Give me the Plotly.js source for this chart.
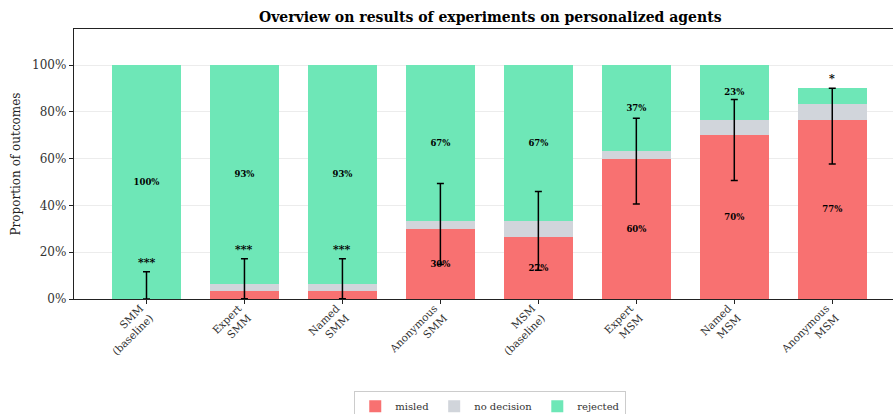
<!DOCTYPE html>
<html>
<head>
<meta charset="utf-8">
<script src="https://cdn.plot.ly/plotly-3.0.1.min.js"></script>
<style>html,body{margin:0;padding:0;background:#fff;}#chart{width:893px;height:414px;}</style>
</head>
<body>
<div id="chart"></div>
<script>
// Data
const categories = ["SMM<br>(baseline)", "Expert<br>SMM", "Named<br>SMM", "Anonymous<br>SMM",
                    "MSM<br>(baseline)", "Expert<br>MSM", "Named<br>MSM", "Anonymous<br>MSM"];
const misled     = [0.0, 0.033, 0.033, 0.30, 0.267, 0.60, 0.70, 0.767];
const noDecision = [0.0, 0.033, 0.033, 0.033, 0.067, 0.033, 0.067, 0.067];
const rejected   = [1.0, 0.933, 0.933, 0.667, 0.667, 0.367, 0.233, 0.067];
const ciLow      = [0.0, 0.001, 0.001, 0.147, 0.123, 0.406, 0.506, 0.577];
const ciHigh     = [0.116, 0.172, 0.172, 0.494, 0.459, 0.773, 0.853, 0.901];
const significance = ["***", "***", "***", "", "", "", "", "*"];
const yTickVals  = [0, 0.2, 0.4, 0.6, 0.8, 1.0];
const yTickText  = ["0%", "20%", "40%", "60%", "80%", "100%"];

const serif = "DejaVu Serif, serif";
const labelFor = v => v > 0.1 ? Math.round(v * 100) + "%" : "";

const barCommon = {
  type: "bar", x: categories, hoverinfo: "skip",
  textposition: "inside", insidetextanchor: "middle", textangle: 0,
  insidetextfont: {family: serif, size: 8.5, color: "#000", weight: "bold"},
  marker: {line: {width: 0}}
};

const traces = [
  Object.assign({}, barCommon, {name: "misled", y: misled, text: misled.map(labelFor),
    marker: {color: "#F87171", line: {width: 0}}}),
  Object.assign({}, barCommon, {name: "no decision", y: noDecision, text: noDecision.map(() => ""),
    marker: {color: "#D1D5DB", line: {width: 0}}}),
  Object.assign({}, barCommon, {name: "rejected", y: rejected, text: rejected.map(labelFor),
    marker: {color: "#6EE7B7", line: {width: 0}}}),
  {
    type: "scatter", mode: "markers", x: categories, y: misled, showlegend: false,
    hoverinfo: "skip", marker: {opacity: 0, size: 1},
    error_y: {type: "data", symmetric: false,
      array: ciHigh.map((h, i) => h - misled[i]),
      arrayminus: ciLow.map((l, i) => misled[i] - l),
      color: "#000", thickness: 1.5, width: 3.5}
  }
];

const annotations = significance.map((s, i) => ({
  x: categories[i], y: ciHigh[i], xref: "x", yref: "y", text: s, showarrow: false,
  yanchor: "bottom", yshift: 1,
  font: {family: serif, size: 11, color: "#000", weight: "bold"}
})).filter(a => a.text !== "");

const layout = {
  width: 893, height: 414,
  margin: {l: 74, r: 0, t: 29, b: 115},
  paper_bgcolor: "#fff", plot_bgcolor: "#fff",
  barmode: "stack", bargap: 0.3,
  title: {text: "<b>Overview on results of experiments on personalized agents</b>",
    font: {family: serif, size: 14, color: "#000"},
    xref: "container", x: 0.549, xanchor: "center", yref: "container", y: 0.958, yanchor: "middle"},
  xaxis: {
    type: "category", range: [-0.74, 7.62], showline: true, linecolor: "#222", linewidth: 1.2,
    mirror: true, ticks: "outside", ticklen: 4, tickcolor: "#222", tickangle: -45,
    ticklabelshift: -6, ticklabelstandoff: -6,
    tickfont: {family: serif, size: 10.5, color: "#333"}, showgrid: false, zeroline: false
  },
  yaxis: {
    range: [0, 1.154], tickvals: yTickVals, ticktext: yTickText,
    showline: true, linecolor: "#222", linewidth: 1.2, ticks: "outside", ticklen: 4, tickcolor: "#222",
    tickfont: {family: serif, size: 12, color: "#333"},
    showgrid: true, gridcolor: "#ececec", gridwidth: 1, zeroline: false,
    title: {text: "Proportion of outcomes", font: {family: serif, size: 12, color: "#222"}, standoff: 8}
  },
  legend: {
    orientation: "h", xref: "container", x: 0.549, xanchor: "center",
    yref: "container", y: 0.019, yanchor: "middle",
    font: {family: serif, size: 10, color: "#333"},
    bordercolor: "#cccccc", borderwidth: 1, bgcolor: "#fff", traceorder: "normal"
  },
  annotations: annotations,
  showlegend: true
};

Plotly.newPlot("chart", traces, layout, {displayModeBar: false, staticPlot: true});
</script>
</body>
</html>
